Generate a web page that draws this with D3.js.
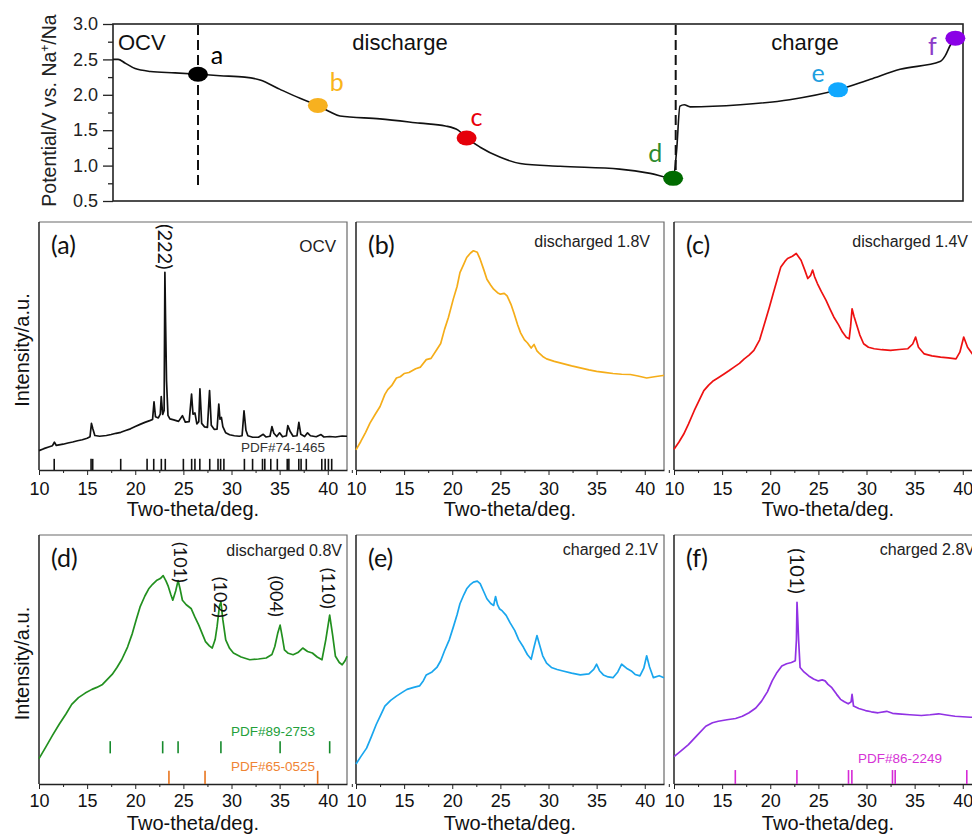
<!DOCTYPE html>
<html>
<head>
<meta charset="utf-8">
<script src="https://cdn.jsdelivr.net/npm/d3@7"></script>
<style>
  html, body { margin: 0; padding: 0; background: #fff; overflow: hidden; }
  svg { display: block; }
</style>
</head>
<body>
<svg id="fig" width="972" height="838"></svg>
<script>
// ---------- charge/discharge profile (x = relative capacity, 0-100) ----------
const gcdX = [0, 0.6, 1.4, 2.6, 4.4, 7.3, 10.0, 12.6, 15.5, 17.3, 19.6, 22.0, 24.1, 25.5, 26.7,
  31.4, 36.1, 39.1, 40.6, 41.6, 43.2, 45.5, 47.9, 52.6, 59.6, 63.2, 65.9, 66.3, 66.7, 67.2,
  67.9, 73.8, 79.6, 85.3, 89.1, 92.6, 97.3, 97.9, 98.5, 99.1];
const gcdV = [2.50, 2.50, 2.45, 2.37, 2.33, 2.31, 2.29, 2.27, 2.25, 2.21, 2.08, 1.95, 1.85, 1.76, 1.70,
  1.66, 1.60, 1.56, 1.50, 1.39, 1.26, 1.12, 1.03, 0.99, 0.95, 0.89, 0.82, 1.20, 1.84, 1.86,
  1.83, 1.86, 1.93, 2.07, 2.22, 2.36, 2.47, 2.55, 2.70, 2.80];
const potentialTicks = [0.5, 1.0, 1.5, 2.0, 2.5, 3.0];
const stateNames = ['a', 'b', 'c', 'd', 'e', 'f'];
const stateX = [10.0, 24.1, 41.6, 65.9, 85.3, 99.1];
const stateV = [2.29, 1.85, 1.39, 0.82, 2.07, 2.80];
const stateFill = ['#000000', '#f7b11f', '#e5000a', '#006b00', '#10a8ff', '#8a00e6'];
const stateText = ['#000000', '#f9b51a', '#e8000b', '#2e8b2e', '#1fa0e0', '#8c3cc8'];
const switchX = [10.0, 66.2];

// ---------- XRD patterns: [2theta, intensity 0-100 of panel height] ----------
const thetaTicks = [10, 15, 20, 25, 30, 35, 40];

const xrdA = [[10,7.8],[10.5,8.6],[11,9.3],[11.4,9.8],[11.6,11.2],[11.8,9.9],[12.5,10.4],[13,10.9],[13.5,11.3],
  [14,11.8],[14.5,12.2],[15,12.8],[15.3,13.4],[15.45,18.8],[15.6,16.5],[15.8,13.9],[16.3,13.6],[17,13.9],
  [17.5,14.3],[18,14.8],[18.5,15.2],[19,15.9],[19.5,16.6],[20,17.5],[20.5,18.4],[21,19.2],[21.5,19.9],
  [21.8,20.4],[21.95,27.5],[22.1,21.5],[22.4,21.0],[22.6,22.5],[22.7,29.6],[22.85,22.4],[23.0,24],
  [23.08,79.7],[23.15,60],[23.25,36],[23.4,22],[23.6,20.6],[24,20.2],[24.5,19.6],[24.9,21.9],[25.2,19.3],
  [25.6,19.5],[25.85,30.6],[26.0,22.5],[26.2,23.0],[26.4,18.6],[26.6,19.5],[26.72,32.7],[26.9,18.8],
  [27.2,17.4],[27.5,17.2],[27.72,32.0],[27.9,18.0],[28.2,16.4],[28.5,16.5],[28.68,26.6],[28.8,20.5],
  [28.95,21.2],[29.1,17.5],[29.4,15.0],[29.8,14.2],[30.3,13.8],[30.8,13.6],[31.1,13.8],[31.3,23.9],
  [31.5,16.0],[31.7,13.8],[32.2,13.2],[32.8,13.2],[33.3,14.4],[33.6,13.3],[34.0,13.6],[34.2,17.5],
  [34.4,14.8],[34.7,13.5],[35.0,15.0],[35.3,13.4],[35.7,13.8],[35.85,17.9],[36.1,15.5],[36.4,13.6],
  [36.8,13.8],[37.0,19.2],[37.2,14.4],[37.6,13.5],[37.9,15.0],[38.2,13.8],[38.8,13.4],[39.3,14.3],
  [39.6,13.3],[40.2,13.5],[40.8,13.3],[41.5,13.7],[42,13.6]];

const xrdB = [[10,8.1],[10.5,11.5],[11,15.2],[11.45,18.9],[12,22.5],[12.5,25.6],[13,30.5],[13.3,32.4],
  [13.7,34.0],[14.2,37.1],[14.6,37.6],[15,38.9],[15.5,39.3],[16.2,40.8],[16.7,41.5],[17.3,44.5],[17.8,45.0],
  [18.4,48.6],[18.8,51.0],[19.2,56.7],[19.6,61.5],[20.1,68.8],[20.5,74.0],[20.8,79.6],[21.2,83.0],
  [21.5,85.7],[21.9,87.5],[22.2,88.4],[22.6,87.8],[22.9,85],[23.3,80.5],[23.6,76.9],[24.0,74.5],
  [24.3,72.9],[24.7,71.5],[25.0,70.9],[25.4,71.2],[25.7,70.2],[26.1,66.8],[26.4,63.4],[26.8,58.5],
  [27.1,55.3],[27.5,52.5],[27.8,51.3],[28.2,49.2],[28.5,50.6],[28.8,48.0],[29.0,47.2],[29.4,45.8],
  [29.8,44.8],[30.6,43.8],[31.5,42.9],[32.4,42.0],[33.3,41.2],[34.2,40.4],[35.0,39.8],[35.8,39.4],
  [36.7,38.9],[37.6,38.6],[38.5,38.5],[39.3,37.9],[40.2,37.1],[41.0,37.6],[41.9,38.1],[42,38.1]];

const xrdC = [[10,8.4],[10.5,11.2],[11,14.4],[11.5,18.5],[12.1,23.9],[12.6,28.0],[13.1,32],[13.6,34.2],
  [14.1,36],[14.6,37.2],[15.2,38.7],[15.7,40.0],[16.2,41.4],[16.8,43.0],[17.3,44.8],[17.8,46.3],
  [18.3,48.2],[18.9,52.5],[19.4,59],[19.9,65.5],[20.3,71.1],[20.7,76.5],[21.1,81.9],[21.5,84.0],
  [21.8,85.3],[22.3,86.2],[22.7,87.3],[23.2,84.6],[23.6,80.5],[23.9,77.2],[24.2,78.5],[24.4,80.6],
  [24.6,78.0],[24.9,75.2],[25.3,72.0],[25.8,68.4],[26.2,65.0],[26.6,61.7],[27.1,58.5],[27.5,55.6],
  [27.9,53.5],[28.2,52.9],[28.35,58],[28.5,65],[28.7,62],[29.0,58.3],[29.3,54.5],[29.7,50.9],
  [30.2,49.5],[30.8,48.9],[31.6,48.5],[32.5,48.2],[33.4,48.6],[34.3,48.9],[34.8,50.8],[35.1,53.6],
  [35.4,49.5],[36.0,46.8],[36.8,46.0],[37.7,45.5],[38.5,45.2],[39.3,44.8],[39.7,47.5],[40.1,53.6],
  [40.5,49.5],[41.0,46.8],[41.5,45.5],[42,45.2]];

const xrdD = [[10,10.2],[10.7,14.8],[11.4,19.5],[12.1,24.0],[12.8,28.1],[13.4,32.0],[14.1,34.7],
  [14.8,36.5],[15.5,38],[16.0,38.8],[16.6,40],[17.1,42.0],[17.6,44],[18.1,46.8],[18.6,50],[19.2,55.0],
  [19.7,60.5],[20.1,66.0],[20.5,71.1],[21.0,75.5],[21.4,78.4],[21.8,80.2],[22.2,81.7],[22.6,82.5],
  [22.9,83.7],[23.2,81.5],[23.4,79.7],[23.7,76.0],[23.9,73.8],[24.2,77.5],[24.45,81.7],[24.65,78.5],
  [24.9,73.8],[25.3,72.0],[25.8,70.5],[26.2,67.0],[26.6,63.8],[27.0,60.0],[27.3,57.2],[27.7,55.5],
  [28.0,54.6],[28.3,58.0],[28.5,63.2],[28.75,71.5],[28.9,73.1],[29.1,66.0],[29.4,57.9],[29.8,54.5],
  [30.2,52.6],[31.0,51.0],[31.9,49.9],[32.8,50.2],[33.6,50.6],[34.2,52.0],[34.5,55.2],[34.8,60.5],
  [35.05,63.8],[35.3,58.5],[35.5,53.9],[35.9,52.5],[36.4,51.9],[36.9,52.8],[37.4,54.6],[37.9,53.2],
  [38.4,52.6],[38.9,51.0],[39.4,49.9],[39.8,58.0],[40.2,67.8],[40.5,60.0],[40.8,51.3],[41.2,48.8],
  [41.5,47.9],[41.8,49.5],[42,51.3]];

const xrdE = [[10,8],[10.5,11.0],[11.1,14.4],[11.6,19.0],[12.1,23.9],[12.6,28.0],[13.0,31.3],[13.6,33.6],
  [14.2,35.3],[14.8,36.8],[15.3,38],[16.0,38.8],[16.6,39.4],[17.0,41.5],[17.3,43.8],[17.9,45.0],
  [18.4,46.8],[18.8,49.5],[19.2,53.5],[19.7,58.0],[20.1,62.9],[20.5,68.0],[20.8,72.4],[21.2,76.0],
  [21.5,78.4],[21.9,80.2],[22.2,81.1],[22.6,81.5],[22.9,80.5],[23.3,77.0],[23.6,74.4],[24.0,72.5],
  [24.3,71.7],[24.5,75.3],[24.7,72.0],[24.9,70.4],[25.2,69.5],[25.6,67.7],[26.0,64.8],[26.5,61.6],
  [26.9,58.0],[27.4,54.9],[27.8,52.0],[28.2,50.1],[28.5,55.0],[28.8,59.6],[29.1,55.5],[29.4,51.5],
  [29.8,48.5],[30.3,46.8],[30.9,46.0],[31.5,45.4],[32.4,44.5],[33.3,43.8],[34.2,44.2],[34.7,46.0],
  [35.0,48.1],[35.3,45.5],[35.7,43.8],[36.2,43.0],[36.7,42.7],[37.2,45.0],[37.6,48.1],[38.1,46.5],
  [38.6,45.4],[39.0,44.0],[39.5,43.4],[39.9,46.5],[40.2,51.5],[40.5,47.0],[40.9,42.7],[41.5,43.5],
  [42,42.7]];

const xrdF = [[10,11],[10.7,13.2],[11.5,15.8],[12.4,19.5],[13.3,23.2],[14.0,24.6],[14.6,25.2],[15.5,25.8],
  [16.4,26.3],[17.1,27.2],[17.8,28.6],[18.5,30.5],[19.1,33.3],[19.7,37.0],[20.2,41.4],[20.7,44.8],
  [21.2,47.4],[21.7,48.3],[22.2,48.8],[22.6,49.5],[22.72,58],[22.78,73],[22.86,66],[22.95,57.5],
  [23.1,46.8],[23.5,45.0],[24.0,43.4],[24.5,42.2],[25.0,41.4],[25.4,41.8],[25.7,41.4],[26.0,40.0],
  [26.4,38.7],[26.9,36.0],[27.3,34],[27.7,33.0],[28.1,32.2],[28.4,33.0],[28.5,36],[28.65,31.3],
  [29.2,30.3],[29.9,29.5],[30.5,29.0],[31.2,28.6],[32.1,29.2],[32.7,28.4],[33.3,28.2],[34.5,27.8],
  [35.7,27.5],[36.6,27.8],[37.5,28.2],[38.3,27.7],[39.2,27.2],[40.0,27.0],[40.8,26.8],[42,26.8]];

// reference (PDF card) line positions
const sticksA = [11.58, 15.41, 15.58, 18.49, 21.23, 21.92, 22.71, 23.12, 25.0, 25.86, 26.2, 26.71, 27.74,
  28.6, 28.87, 29.21, 31.34, 32.19, 33.22, 33.46, 34.08, 34.76, 35.79, 35.96, 36.99, 37.23, 37.77,
  39.38, 39.73, 40.07, 40.41];
const sticksD1 = [17.4, 22.85, 24.45, 28.9, 35.05, 40.2];
const sticksD2 = [23.5, 27.25, 38.95];
const sticksF = [16.37, 22.77, 28.13, 28.48, 32.7, 32.98, 40.42];

const panelLetters = ['(a)', '(b)', '(c)', '(d)', '(e)', '(f)'];
const conditions = ['OCV', 'discharged 1.8V', 'discharged 1.4V', 'discharged 0.8V', 'charged 2.1V', 'charged 2.8V'];
const millerD = ['(101)', '(102)', '(004)', '(110)'];
const millerDTheta = [24.45, 28.9, 35.05, 40.2];

// ---------- drawing ----------
const ARIAL = '"Liberation Sans", Arial, sans-serif';
const CALI = 'Lato, "Open Sans", sans-serif';
const svg = d3.select('#fig');

// ===== top: potential profile =====
const gx = d3.scaleLinear().domain([0, 100]).range([113, 963]);
const gy = d3.scaleLinear().domain([0.5, 3.0]).range([201, 24]);
const topG = svg.append('g');

const potMinor = d3.pairs(potentialTicks).map(p => (p[0] + p[1]) / 2);
topG.append('g')
  .attr('transform', 'translate(113,0)')
  .call(d3.axisLeft(gy).tickValues(potMinor).tickSize(5).tickFormat(''))
  .call(g => g.select('.domain').remove())
  .selectAll('line').attr('stroke', '#222').attr('stroke-width', 1.3);

topG.append('g')
  .attr('transform', 'translate(113,0)')
  .call(d3.axisLeft(gy).tickValues(potentialTicks).tickFormat(d3.format('.1f')).tickSize(10).tickPadding(5))
  .call(g => g.select('.domain').remove())
  .call(g => g.selectAll('line').attr('stroke', '#222').attr('stroke-width', 1.3))
  .call(g => g.selectAll('text').attr('font-family', ARIAL).attr('font-size', 18).attr('fill', '#222'));

topG.append('rect')
  .attr('x', gx(0)).attr('y', gy(3.0))
  .attr('width', gx(100) - gx(0)).attr('height', gy(0.5) - gy(3.0))
  .attr('fill', 'none').attr('stroke', '#222').attr('stroke-width', 1.6);

const ylab = topG.append('text')
  .attr('transform', 'translate(56,' + (gy(1.75) - 2) + ') rotate(-90)')
  .attr('text-anchor', 'middle')
  .attr('font-family', ARIAL).attr('font-size', 19.5).attr('fill', '#222');
ylab.append('tspan').text('Potential/V vs. Na');
ylab.append('tspan').attr('baseline-shift', 'super').attr('font-size', 12).text('+');
ylab.append('tspan').text('/Na');

// dashed separators
topG.selectAll('line.sep')
  .data(switchX)
  .enter().append('line')
  .attr('class', 'sep')
  .attr('x1', d => gx(d)).attr('x2', d => gx(d))
  .attr('y1', 25).attr('y2', 190)
  .attr('stroke', '#111').attr('stroke-width', 2)
  .attr('stroke-dasharray', '10,5');

// profile curve
topG.append('path')
  .datum(d3.zip(gcdX, gcdV))
  .attr('fill', 'none').attr('stroke', '#111').attr('stroke-width', 1.6)
  .attr('d', d3.line().x(d => gx(d[0])).y(d => gy(d[1])).curve(d3.curveMonotoneX));

// state markers
const stateDx = [19, 19, 10, -18, -20, -23];
const stateDy = [-19, -23, -21, -25, -17, 8];
topG.selectAll('ellipse.state')
  .data(stateNames)
  .enter().append('ellipse')
  .attr('class', 'state')
  .attr('cx', (d, i) => gx(stateX[i])).attr('cy', (d, i) => gy(stateV[i]))
  .attr('rx', 10).attr('ry', 7.5)
  .attr('fill', (d, i) => stateFill[i]);

topG.selectAll('text.state')
  .data(stateNames)
  .enter().append('text')
  .attr('class', 'state')
  .attr('x', (d, i) => gx(stateX[i]) + stateDx[i])
  .attr('y', (d, i) => gy(stateV[i]) + stateDy[i])
  .attr('dy', '0.35em')
  .attr('text-anchor', 'middle')
  .attr('font-family', CALI).attr('font-size', 25)
  .attr('fill', (d, i) => stateText[i])
  .text(d => d);

topG.append('text').attr('x', 118).attr('y', 50)
  .attr('font-family', ARIAL).attr('font-size', 22).attr('fill', '#111').text('OCV');
topG.append('text').attr('x', 400).attr('y', 50).attr('text-anchor', 'middle')
  .attr('font-family', ARIAL).attr('font-size', 22).attr('fill', '#111').text('discharge');
topG.append('text').attr('x', 805).attr('y', 50).attr('text-anchor', 'middle')
  .attr('font-family', ARIAL).attr('font-size', 22).attr('fill', '#111').text('charge');

// ===== XRD panels =====
const colLeft = [39, 356, 674];
const rowTop = [222, 535];
const rowBottom = [470, 784];
const panelW = 308;
const thetaMinor = thetaTicks.map(t => t + 2.5);

const panels = [
  { data: xrdA, color: '#111111', col: 0, row: 0, condDx: -11, condDy: 30, condSize: 17,
    sticks: [{ pos: sticksA, color: '#111', band: [0, 4.5], label: 'PDF#74-1465', lx: 325, ly: 452, anchor: 'end', lcolor: '#333' }],
    miller: [{ text: '(222)', theta: 23.08, I: 90, size: 20, dx: 0 }] },
  { data: xrdB, color: '#f5ad19', col: 1, row: 0, condDx: -14, condDy: 25, condSize: 16, sticks: [], miller: [] },
  { data: xrdC, color: '#ee1111', col: 2, row: 0, condDx: -14, condDy: 25, condSize: 16, sticks: [], miller: [] },
  { data: xrdD, color: '#22901f', col: 0, row: 1, condDx: -5, condDy: 21, condSize: 16,
    sticks: [
      { pos: sticksD1, color: '#168a2c', band: [12.3, 17.2], label: 'PDF#89-2753', lx: 273, ly: 736, anchor: 'middle', lcolor: '#22a03a' },
      { pos: sticksD2, color: '#e8741e', band: [0, 5.3], label: 'PDF#65-0525', lx: 273, ly: 771, anchor: 'middle', lcolor: '#ef8434' }
    ],
    miller: millerD.map((t, i) => ({ text: t, theta: millerDTheta[i], I: [89, 75, 75.4, 78.6][i], size: 18, dx: [2, -1, -4, -1][i] })) },
  { data: xrdE, color: '#19a6ee', col: 1, row: 1, condDx: -6, condDy: 20, condSize: 16, sticks: [], miller: [] },
  { data: xrdF, color: '#9132e4', col: 2, row: 1, condDx: -7, condDy: 20, condSize: 16,
    sticks: [{ pos: sticksF, color: '#d62ad6', band: [0, 5.6], label: 'PDF#86-2249', lx: 900, ly: 763, anchor: 'middle', lcolor: '#d633d6' }],
    miller: [{ text: '(101)', theta: 22.77, I: 85.5, size: 20, dx: 0 }] }
];

panels.forEach((p, i) => {
  const left = colLeft[p.col], right = left + panelW;
  const top = rowTop[p.row], bottom = rowBottom[p.row];
  const x = d3.scaleLinear().domain([10, 42]).range([left, right]);
  const y = d3.scaleLinear().domain([0, 100]).range([bottom, top]);
  const g = svg.append('g');

  // frame: thin grey top/right, dark left/bottom
  g.append('path')
    .attr('d', `M${left},${top}H${right}V${bottom}`)
    .attr('fill', 'none').attr('stroke', '#6a6a6a').attr('stroke-width', 1.2);
  g.append('line').attr('x1', left).attr('x2', left).attr('y1', top).attr('y2', bottom)
    .attr('stroke', '#222').attr('stroke-width', 1.5);

  // x axis
  g.append('g')
    .attr('transform', `translate(0,${bottom})`)
    .call(d3.axisBottom(x).tickValues(thetaMinor).tickSize(3).tickFormat(''))
    .call(a => a.select('.domain').remove())
    .selectAll('line').attr('stroke', '#222');
  g.append('g')
    .attr('transform', `translate(0,${bottom})`)
    .call(d3.axisBottom(x).tickValues(thetaTicks).tickSize(5).tickPadding(p.row === 0 ? 7 : 5).tickSizeOuter(0))
    .call(a => a.select('.domain').attr('stroke', '#222').attr('stroke-width', 1.5))
    .call(a => a.selectAll('line').attr('stroke', '#222'))
    .call(a => a.selectAll('text').attr('font-family', ARIAL).attr('font-size', 18).attr('fill', '#111'));

  g.append('text')
    .attr('x', (left + right) / 2).attr('y', bottom + (p.row === 0 ? 46 : 46))
    .attr('text-anchor', 'middle')
    .attr('font-family', ARIAL).attr('font-size', 20).attr('fill', '#111')
    .text('Two-theta/deg.');

  if (p.col === 0) {
    g.append('text')
      .attr('transform', `translate(29,${(top + bottom) / 2 + 4}) rotate(-90)`)
      .attr('text-anchor', 'middle')
      .attr('font-family', ARIAL).attr('font-size', 20).attr('fill', '#111')
      .text('Intensity/a.u.');
  }

  // reference sticks
  p.sticks.forEach(s => {
    g.selectAll(null)
      .data(s.pos)
      .enter().append('line')
      .attr('x1', d => x(d)).attr('x2', d => x(d))
      .attr('y1', y(s.band[0])).attr('y2', y(s.band[1]))
      .attr('stroke', s.color).attr('stroke-width', 1.6);
    g.append('text')
      .attr('x', s.lx).attr('y', s.ly)
      .attr('text-anchor', s.anchor)
      .attr('font-family', ARIAL).attr('font-size', 13.5).attr('fill', s.lcolor)
      .text(s.label);
  });

  // pattern
  g.append('path')
    .datum(p.data)
    .attr('fill', 'none').attr('stroke', p.color).attr('stroke-width', 1.7)
    .attr('stroke-linejoin', 'round')
    .attr('d', d3.line().x(d => x(d[0])).y(d => y(d[1])));

  // Miller indices
  p.miller.forEach(m => {
    g.append('text')
      .attr('transform', `translate(${x(m.theta) + m.dx},${y(m.I)}) rotate(90)`)
      .attr('text-anchor', 'middle').attr('dy', '0.35em')
      .attr('font-family', CALI).attr('font-size', m.size).attr('fill', '#111')
      .text(m.text);
  });

  // panel letter and condition
  g.append('text')
    .attr('x', left + 12).attr('y', top + 32)
    .attr('font-family', CALI).attr('font-size', 25).attr('fill', '#111')
    .text(panelLetters[i]);
  g.append('text')
    .attr('x', right + p.condDx).attr('y', top + p.condDy)
    .attr('text-anchor', 'end')
    .attr('font-family', ARIAL).attr('font-size', p.condSize).attr('fill', '#222')
    .text(conditions[i]);
});
</script>
</body>
</html>
